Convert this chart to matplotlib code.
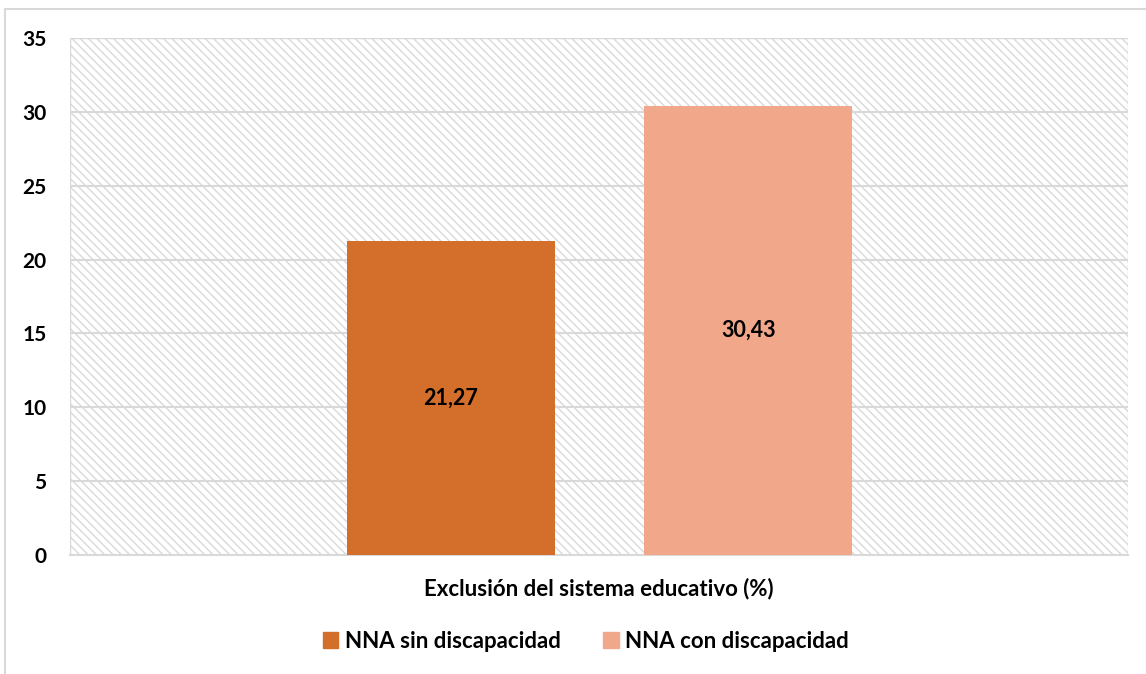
import matplotlib
matplotlib.use("Agg")
import matplotlib.pyplot as plt
from matplotlib.patches import Rectangle
from matplotlib.lines import Line2D

categories = ["Exclusión del sistema educativo (%)"]
series_names = ["NNA sin discapacidad", "NNA con discapacidad"]
values = [21.27, 30.43]
value_labels = ["21,27", "30,43"]
colors = ["#D36F2B", "#F0A78A"]
yticks = [0, 5, 10, 15, 20, 25, 30, 35]

plt.rcParams['font.family'] = ['Lato', 'DejaVu Sans']
plt.rcParams['hatch.color'] = '#d9d9d9'
plt.rcParams['hatch.linewidth'] = 1.0

W, H = 1146, 674
fig = plt.figure(figsize=(W / 100, H / 100), dpi=100)
ax = fig.add_axes([70 / W, (H - 555) / H, 1058 / W, 517 / H])

# hatched plot background
bg = Rectangle((0, 0), 1, 1, transform=ax.transAxes, facecolor='white',
               edgecolor='#d9d9d9', hatch='\\\\\\\\', linewidth=1.0, zorder=0)
ax.add_patch(bg)

ax.set_xlim(0, 1)
ax.set_ylim(0, 35)
centers = [0.360, 0.641]
width = 0.1966
bars = ax.bar(centers, values, width=width, color=colors, zorder=3, label=series_names)
for c, v, lab in zip(centers, values, value_labels):
    ax.text(c, v / 2, lab, ha='center', va='center', fontsize=15.5, fontweight='bold',
            color='black', zorder=4)

ax.set_yticks(yticks)
ax.set_yticklabels([str(t) for t in yticks], fontsize=15, fontweight='bold')
ax.yaxis.grid(True, color='#d9d9d9', linewidth=1.5, zorder=1)
ax.set_axisbelow(True)
ax.tick_params(axis='y', length=0, pad=17)
ax.set_xticks([0.5])
ax.set_xticklabels(categories, fontsize=16, fontweight='bold')
ax.tick_params(axis='x', length=0, pad=16)
for s in ['top', 'right', 'left']:
    ax.spines[s].set_visible(False)
ax.spines['bottom'].set_color('#d9d9d9')
ax.spines['bottom'].set_linewidth(1.5)

handles = [Rectangle((0, 0), 1, 1, color=c) for c in colors]
fig.legend(handles, series_names, loc='center', bbox_to_anchor=(0.5 + 13 / W, (H - 641) / H),
           ncol=2, frameon=False, handlelength=0.7, handleheight=0.7,
           columnspacing=1.9, handletextpad=0.3, prop={'weight': 'bold', 'size': 16})

# outer border (left and top)
fig.add_artist(Line2D([5 / W, 5 / W], [0, 1 - 9 / H], color='#d9d9d9', linewidth=1.5))
fig.add_artist(Line2D([5 / W, 1], [1 - 9 / H, 1 - 9 / H], color='#d9d9d9', linewidth=1.5))

fig.savefig('out.png', dpi=100)
